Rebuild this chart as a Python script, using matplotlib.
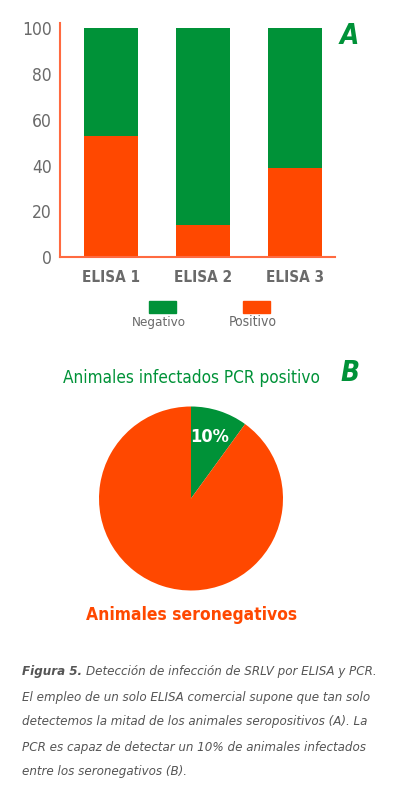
import matplotlib
matplotlib.use("Agg")
import matplotlib.pyplot as plt
from matplotlib.patches import Rectangle
from matplotlib.font_manager import FontProperties

categories = ["ELISA 1", "ELISA 2", "ELISA 3"]
positivo = [53, 14, 39]
negativo = [100 - p for p in positivo]
yticks = [0, 20, 40, 60, 80, 100]
legend_labels = ["Negativo", "Positivo"]
pie_values = [10, 90]
pie_pct_label = "10%"
pie_title = "Animales infectados PCR positivo"
pie_bottom = "Animales seronegativos"

GREEN = "#009238"
ORANGE = "#FF4800"
AXIS = "#FF6A40"
GRAY = "#6a6a6a"
CAP = "#555555"


def fp(weight="normal", style="normal"):
    return FontProperties(family="DejaVu Sans", stretch="condensed", weight=weight, style=style)


F_REG = fp()
F_BOLD = fp("bold")
F_IT = fp(style="italic")
F_BIT = fp("bold", "italic")

W, H = 398, 800
fig = plt.figure(figsize=(W / 100, H / 100), dpi=100)
renderer = fig.canvas.get_renderer()


def fx(px):
    return px / W


def fy(py):
    return 1 - py / H


def ftext(x, y, s, prop, width=None, size=12, **kw):
    p = prop.copy()
    p.set_size(size)
    t = fig.text(fx(x), fy(y), s, fontproperties=p, **kw)
    if width is not None:
        bb = t.get_window_extent(renderer=renderer)
        t.set_fontsize(size * width / bb.width)
    return t


# ---- bar chart A ----
x0, x1 = 60, 335
yb, yt = 257.3, 22.7
ax = fig.add_axes([fx(x0), fy(yb), (x1 - x0) / W, (yb - yt) / H])
pos = list(range(len(categories)))
ax.bar(pos, positivo, width=0.587, color=ORANGE, zorder=2)
ax.bar(pos, negativo, bottom=positivo, width=0.587, color=GREEN, zorder=2)
ax.set_xlim(-0.554, 2.435)
ax.set_ylim(0, 102.4)
ax.set_yticks(yticks)
yt_fp = F_REG.copy(); yt_fp.set_size(12.5)
ax.set_yticklabels([str(v) for v in yticks], fontproperties=yt_fp, color=GRAY)
ax.set_xticks(pos)
xt_fp = F_BOLD.copy(); xt_fp.set_size(11)
ax.set_xticklabels(categories, fontproperties=xt_fp, color=GRAY)
ax.tick_params(axis="both", length=0)
ax.tick_params(axis="y", pad=6)
ax.tick_params(axis="x", pad=9)
for s in ["top", "right"]:
    ax.spines[s].set_visible(False)
for s in ["left", "bottom"]:
    ax.spines[s].set_color(AXIS)
    ax.spines[s].set_linewidth(1.5)
ax.patch.set_alpha(0)

ftext(349, 36, "A", F_BIT, size=20, color=GREEN, ha="center", va="center")

# legend
for (lx, col, lab, wd) in [(149, GREEN, legend_labels[0], 54), (243, ORANGE, legend_labels[1], 48)]:
    fig.patches.append(Rectangle((fx(lx), fy(312.7)), 27 / W, 12 / H,
                                 transform=fig.transFigure, color=col))
    ftext(lx + 10, 322.5, lab, F_REG, width=wd, size=10, color=GRAY, ha="center", va="center")

# ---- pie B ----
ftext(191, 378, pie_title, F_REG, width=258, size=15, color=GREEN, ha="center", va="center")
ftext(350, 373, "B", F_BIT, size=20, color=GREEN, ha="center", va="center")

cx, cy, r = 191, 498.5, 92
pax = fig.add_axes([fx(cx - r), fy(cy + r), 2 * r / W, 2 * r / H])
pax.pie(pie_values, colors=[GREEN, ORANGE], startangle=90, counterclock=False,
        radius=1, wedgeprops=dict(linewidth=0))
pax.set_xlim(-1, 1)
pax.set_ylim(-1, 1)
pax.set_aspect("auto")
pax.axis("off")
ftext(210, 437, pie_pct_label, F_BOLD, width=39, size=15, color="white",
      ha="center", va="center")

ftext(192, 615, pie_bottom, F_BOLD, width=212, size=15, color=ORANGE,
      ha="center", va="center")

# ---- caption ----
lines_y = [672, 697, 722, 747, 772]
caption_lines = [
    "Detección de infección de SRLV por ELISA y PCR.",
    "El empleo de un solo ELISA comercial supone que tan solo",
    "detectemos la mitad de los animales seropositivos (A). La",
    "PCR es capaz de detectar un 10% de animales infectados",
    "entre los seronegativos (B).",
]
probe = ftext(22, lines_y[1], caption_lines[1], F_IT, width=348, size=11,
              color=CAP, ha="left", va="center")
cap_size = probe.get_fontsize()
t = ftext(22, lines_y[0], "Figura 5. ", F_BIT, size=cap_size, color=CAP,
          ha="left", va="center")
bb = t.get_window_extent(renderer=renderer)
ftext(bb.x1, lines_y[0], caption_lines[0], F_IT, size=cap_size, color=CAP,
      ha="left", va="center")
for yy, line in zip(lines_y[2:], caption_lines[2:]):
    ftext(22, yy, line, F_IT, size=cap_size, color=CAP, ha="left", va="center")

fig.savefig("out.png", dpi=100)
